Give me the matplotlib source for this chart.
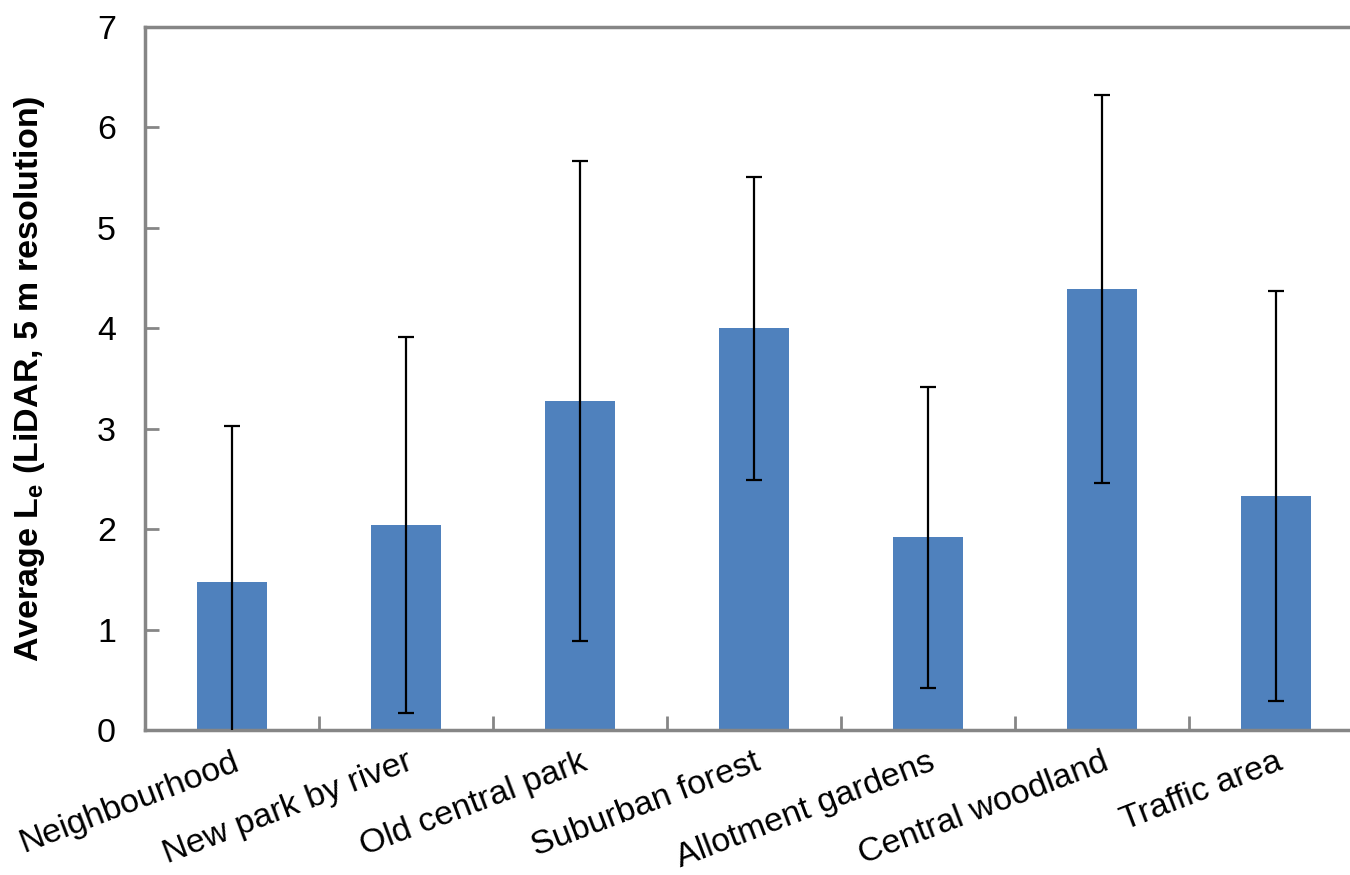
import numpy as np
import matplotlib
matplotlib.use("Agg")
import matplotlib.pyplot as plt

plt.rcParams['font.family'] = ['Liberation Sans', 'DejaVu Sans']

# --- data ---
categories = ["Neighbourhood", "New park by river", "Old central park", "Suburban forest",
              "Allotment gardens", "Central woodland", "Traffic area"]
mean_le = [1.47, 2.04, 3.28, 4.00, 1.92, 4.39, 2.33]
err_le = [1.56, 1.87, 2.39, 1.51, 1.50, 1.93, 2.04]
yticks = [0, 1, 2, 3, 4, 5, 6, 7]

bar_color = "#4F81BD"
axis_color = "#868686"
fs = 24.5

fig = plt.figure(figsize=(13.5, 8.75), dpi=100)
ax = fig.add_axes([0.1074, 0.1657, 0.9022, 0.8034])

x = np.arange(len(categories))
ax.bar(x, mean_le, width=0.4, color=bar_color, zorder=2)
ax.errorbar(x, mean_le, yerr=err_le, fmt='none', ecolor='black',
            elinewidth=1.6, capsize=5.5, capthick=1.6, zorder=3)

ax.set_xlim(-0.5, len(categories) - 0.5)
ax.set_ylim(0, 7)
ax.set_yticks(yticks)
ax.tick_params(axis='y', direction='in', length=10, width=2, color=axis_color,
               labelsize=fs, pad=21)

# category labels at centers, ticks at boundaries
ax.set_xticks(x)
ax.set_xticklabels(categories, rotation=21, ha='right', rotation_mode='anchor', fontsize=fs)
ax.tick_params(axis='x', which='major', length=0, pad=12)
ax.set_xticks(np.arange(-0.5, len(categories) + 0.5, 1), minor=True)
ax.tick_params(axis='x', which='minor', direction='in', length=10, width=2, color=axis_color)

for sp in ax.spines.values():
    sp.set_color(axis_color)
    sp.set_linewidth(2.5)

ax.set_ylabel("Average L$_\\mathregular{e}$ (LiDAR, 5 m resolution)", fontsize=fs,
              fontweight='bold', labelpad=36)

fig.savefig("out.png", dpi=100)
